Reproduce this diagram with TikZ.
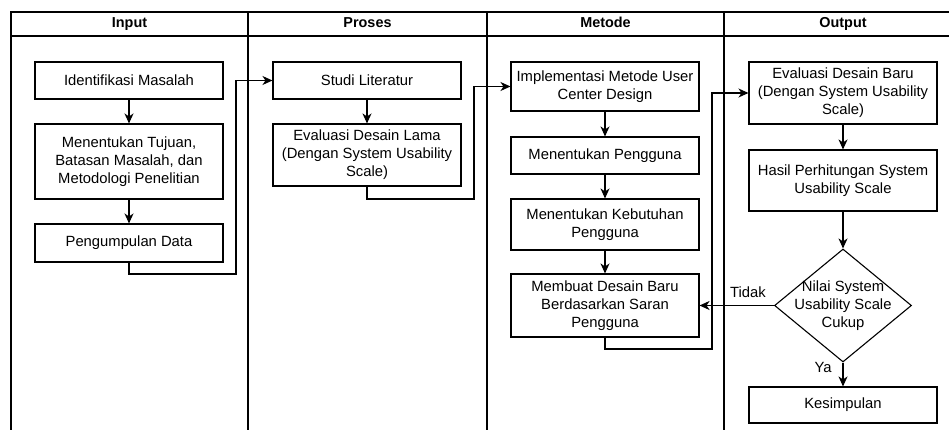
\documentclass[tikz,border=0pt]{standalone}
\usepackage{fontspec}
\setmainfont{Liberation Sans}
\usetikzlibrary{shapes.geometric,arrows.meta}
\begin{document}
\begin{tikzpicture}[x=1pt,y=-1pt,
  every node/.style={font=\fontsize{14.8}{18}\selectfont},
  box/.style={draw,line width=1.1pt,minimum width=188pt,inner sep=0pt,align=center},
  hdr/.style={font=\fontsize{14.4}{17}\selectfont\bfseries,text height=10.5pt,text depth=3pt,inner sep=0pt},
  lane/.style={line width=1.2pt},
  arr/.style={line width=1.1pt,-{Stealth[length=10pt,width=9pt,inset=3pt]}},
  ln/.style={line width=1.1pt}]
\useasboundingbox (0,0) rectangle (949,430);
% lanes
\draw[lane] (11,430) -- (11,12) -- (949,12);
\draw[lane] (11,36) -- (949,36);
\draw[lane] (248,12) -- (248,430);
\draw[lane] (487,12) -- (487,430);
\draw[lane] (724,12) -- (724,430);
\node[hdr] (h1) at (129.5,24) {Input};
\node[hdr] (h2) at (367.5,24) {Proses};
\node[hdr] (h3) at (605.5,24) {Metode};
\node[hdr] (h4) at (843,24) {Output};
% Input
\node[box,minimum height=37pt] (id) at (129,80.5) {Identifikasi Masalah};
\node[box,minimum height=75pt] (tuj) at (129,161.5) {Menentukan Tujuan,\\Batasan Masalah, dan\\Metodologi Penelitian};
\node[box,minimum height=38pt] (data) at (129,243) {Pengumpulan Data};
% Proses
\node[box,minimum height=37pt] (studi) at (367,80.5) {Studi Literatur};
\node[box,minimum height=62pt] (lama) at (367,155) {Evaluasi Desain Lama\\(Dengan System Usability\\Scale)};
% Metode
\node[box,minimum height=49pt] (impl) at (605,86.5) {Implementasi Metode User\\Center Design};
\node[box,minimum height=37pt] (peng) at (605,155.5) {Menentukan Pengguna};
\node[box,minimum height=51pt] (kebu) at (605,224.5) {Menentukan Kebutuhan\\Pengguna};
\node[box,minimum height=63pt] (buat) at (605,305.5) {Membuat Desain Baru\\Berdasarkan Saran\\Pengguna};
% Output
\node[box,minimum height=62pt] (baru) at (843,93) {Evaluasi Desain Baru\\(Dengan System Usability\\Scale)};
\node[box,minimum height=61pt] (hasil) at (843,180.5) {Hasil Perhitungan System\\Usability Scale};
\node[diamond,draw,line width=1.1pt,minimum width=137pt,minimum height=113pt,inner sep=0pt,
  label={[align=center,font=\fontsize{14.8}{18}\selectfont]center:Nilai System\\Usability Scale\\Cukup}] (dec) at (843,305.5) {};
\node[box,minimum height=36pt] (kes) at (843,405) {Kesimpulan};
% connectors
\coordinate (c1) at (236,274);
\coordinate (c2) at (474,199);
\coordinate (c3) at (712,349);
\draw[arr] (id) -- (tuj);
\draw[arr] (tuj) -- (data);
\draw[arr] (data.south) |- (c1) |- (studi.west);
\draw[arr] (studi) -- (lama);
\draw[arr] (lama.south) |- (c2) |- (impl.west);
\draw[arr] (impl) -- (peng);
\draw[arr] (peng) -- (kebu);
\draw[arr] (kebu) -- (buat);
\draw[arr] (buat.south) |- (c3) |- (baru.west);
\draw[arr] (baru) -- (hasil);
\draw[arr] (hasil) -- (dec.north);
\draw[arr] (dec.south) -- (kes);
\draw[arr] (dec.west) -- (buat.east);
\node (tidak) at (748,292) {Tidak};
\node (ya) at (823,367) {Ya};
\end{tikzpicture}
\end{document}
